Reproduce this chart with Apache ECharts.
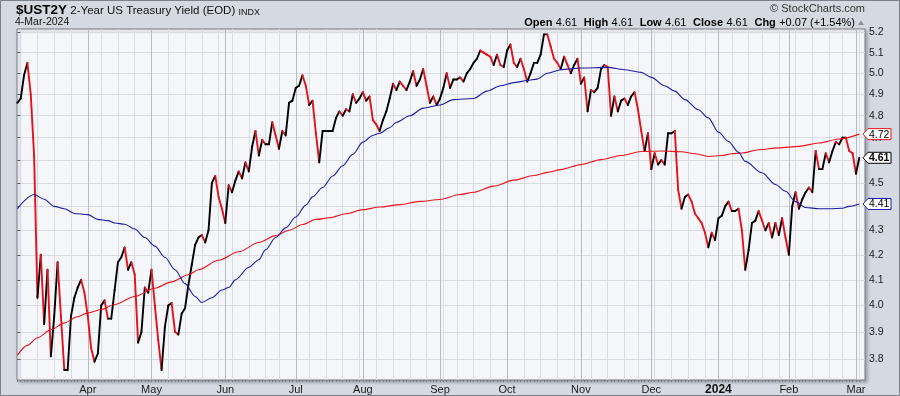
<!DOCTYPE html>
<html><head><meta charset="utf-8">
<script src="https://cdn.jsdelivr.net/npm/echarts@6/dist/echarts.min.js"></script>
<style>html,body{margin:0;padding:0;background:#d4d9e2}#c{width:900px;height:396px}</style>
</head><body><div id="c"></div>
<script>
// ---- categories: trading days ----
const startDate = '2023-03-03';
const endDate = '2024-03-04';
const holidays = ['2023-04-07','2023-05-29','2023-06-19','2023-07-04','2023-09-04','2023-11-23','2023-12-25','2024-01-01','2024-01-15','2024-02-19'];
const monthNames = ['Jan','Feb','Mar','Apr','May','Jun','Jul','Aug','Sep','Oct','Nov','Dec'];

// ---- daily close of $UST2Y (one per trading day) ----
const closes = [
4.86,4.88,4.99,5.05,4.90,4.62,4.03,4.20,3.93,4.14,
3.81,3.96,4.17,3.96,3.76,3.76,3.96,4.03,4.07,4.10,
4.05,3.96,3.84,3.79,3.82,4.00,4.02,3.95,3.95,4.06,
4.17,4.19,4.23,4.14,4.17,4.12,3.86,3.90,4.07,4.05,
4.14,4.00,3.87,3.76,3.92,4.00,4.01,3.90,3.89,3.97,
3.99,4.08,4.16,4.24,4.27,4.28,4.25,4.30,4.50,4.53,
4.44,4.39,4.33,4.49,4.46,4.51,4.55,4.52,4.59,4.55,
4.66,4.73,4.62,4.69,4.67,4.67,4.77,4.71,4.65,4.73,
4.71,4.86,4.87,4.93,4.94,4.99,4.94,4.85,4.87,4.72,
4.59,4.73,4.73,4.73,4.73,4.79,4.82,4.80,4.83,4.82,
4.90,4.86,4.88,4.91,4.87,4.89,4.78,4.76,4.73,4.78,
4.82,4.88,4.95,4.92,4.96,4.94,4.92,4.96,5.01,4.94,
4.97,5.02,4.94,4.86,4.89,4.85,4.88,4.93,5.00,4.93,
4.97,4.97,4.98,4.96,5.00,5.02,5.05,5.07,5.11,5.10,
5.09,5.08,5.04,5.09,5.04,5.03,5.11,5.14,5.05,5.03,
5.07,5.02,4.96,5.00,5.05,5.05,5.09,5.19,5.19,5.13,
5.07,5.05,5.02,5.08,5.04,5.00,5.04,5.07,4.95,4.98,
4.82,4.92,4.91,4.93,5.02,5.04,5.03,4.80,4.89,4.82,
4.87,4.88,4.85,4.89,4.91,4.83,4.73,4.64,4.72,4.56,
4.63,4.58,4.60,4.58,4.72,4.72,4.73,4.47,4.39,4.44,
4.45,4.42,4.37,4.35,4.33,4.29,4.23,4.29,4.26,4.35,
4.36,4.40,4.42,4.38,4.38,4.39,4.30,4.14,4.22,4.33,
4.34,4.38,4.34,4.30,4.33,4.27,4.33,4.28,4.35,4.27,
4.20,4.40,4.46,4.39,4.43,4.46,4.48,4.46,4.64,4.56,
4.56,4.63,4.59,4.64,4.68,4.67,4.70,4.70,4.64,4.63,
4.54,4.61
];

// ---- 50-day MA (blue), read at these trading-day indices ----
const ma50Idx = [0,5,8,11,14,17,21,24,27,29,32,35,38,41,44,47,50,53,55,58,61,63,65,69,72,74,77,80,83,86,88,91,94,97,100,103,106,108,111,113,117,121,126,130,136,140,144,148,152,155,158,162,168,176,181,186,189,193,196,199,203,206,209,212,215,217,222,226,229,232,235,239,242,246,248,251];
const ma50Val = [4.39,4.45,4.43,4.40,4.39,4.37,4.365,4.345,4.34,4.33,4.325,4.305,4.27,4.235,4.19,4.14,4.085,4.035,4.012,4.03,4.06,4.07,4.10,4.15,4.18,4.22,4.27,4.31,4.355,4.405,4.44,4.48,4.53,4.575,4.625,4.68,4.71,4.72,4.745,4.77,4.80,4.835,4.85,4.875,4.88,4.915,4.94,4.955,4.965,4.972,5.00,5.017,5.025,5.028,5.017,5.004,4.98,4.94,4.915,4.875,4.828,4.79,4.725,4.683,4.634,4.594,4.544,4.493,4.464,4.42,4.395,4.39,4.39,4.392,4.40,4.41];

// ---- 200-day MA (red) ----
const ma200Idx = [0,3,6,10,14,18,21,25,29,35,41,46,51,54,60,66,72,77,81,85,89,93,98,103,108,114,120,126,132,136,142,148,154,158,162,168,174,180,186,192,198,202,206,210,213,216,221,227,233,239,245,251];
const ma200Val = [3.813,3.85,3.878,3.908,3.934,3.957,3.972,3.985,4.004,4.035,4.067,4.092,4.12,4.14,4.178,4.212,4.25,4.278,4.30,4.324,4.345,4.352,4.369,4.386,4.397,4.407,4.421,4.429,4.45,4.46,4.486,4.512,4.532,4.546,4.558,4.58,4.602,4.62,4.638,4.64,4.637,4.628,4.616,4.62,4.628,4.631,4.646,4.654,4.661,4.676,4.694,4.716];

// ---- y tick labels ----
const yTicks = [3.8,3.9,4.0,4.1,4.2,4.3,4.4,4.5,4.6,4.7,4.8,4.9,5.0,5.1,5.2];

// ---- build trading dates ----
const dates = [];
(function(){
  let d = new Date(startDate + 'T00:00:00Z');
  const end = new Date(endDate + 'T00:00:00Z');
  while (d <= end) {
    const s = d.toISOString().slice(0,10);
    const wd = d.getUTCDay();
    if (wd !== 0 && wd !== 6 && holidays.indexOf(s) < 0) dates.push(new Date(d.getTime()));
    d = new Date(d.getTime() + 86400000);
  }
})();
const dayIdx = dates.map((d,i)=>i);
const monthIdx = [], weekIdx = [], labelMap = {};
const weekNo = d => Math.floor((d.getTime()/86400000 + 3) / 7); // Monday-based
dates.forEach((d,i)=>{
  if (i === 0) return;
  const p = dates[i-1];
  if (d.getUTCMonth() !== p.getUTCMonth()) {
    monthIdx.push(i);
    labelMap[i] = d.getUTCMonth() === 0 ? '{y|' + d.getUTCFullYear() + '}' : monthNames[d.getUTCMonth()];
  }
  if (weekNo(d) !== weekNo(p)) weekIdx.push(i);
});

const priceSegs = closes.slice(1).map((v,k)=>[k, closes[k], k+1, v]);
const ma50 = ma50Idx.map((x,k)=>[x, ma50Val[k]]);
const ma200 = ma200Idx.map((x,k)=>[x, ma200Val[k]]);

const XMIN = -0.1, XMAX = 252.7, YMIN = 3.724, YMAX = 5.217;
const FONT = '"Liberation Sans", Arial, sans-serif';

function baseX(extra){
  return Object.assign({type:'value', min:XMIN, max:XMAX, position:'bottom',
    axisLine:{show:false}, axisTick:{show:false}, axisLabel:{show:false}, splitLine:{show:false}}, extra);
}

const chart = echarts.init(document.getElementById('c'), null, {renderer:'canvas'});
const option = {
  animation:false,
  backgroundColor:'#d4d9e2',
  textStyle:{fontFamily:FONT},
  grid:{left:17, right:35, top:29, bottom:16, show:true, backgroundColor:'#f5f6fa',
    borderColor:'#767b85', borderWidth:1,
    shadowColor:'rgba(60,65,80,0.35)', shadowBlur:3, shadowOffsetX:2, shadowOffsetY:2},
  xAxis:[
    baseX({axisTick:{show:true, customValues:dayIdx, length:2, lineStyle:{color:'#777c86', width:1}},
      axisLabel:{show:true, customValues:monthIdx, formatter:v=>labelMap[Math.round(v)]||'',
        margin:4, color:'#1a1a1a', fontSize:11, fontFamily:FONT,
        rich:{y:{fontWeight:'bold', fontSize:12, color:'#111', fontFamily:FONT}}}}),
    baseX({axisTick:{show:false, customValues:weekIdx}, splitLine:{show:true, lineStyle:{color:'#d8dbe2', width:1}}}),
    baseX({axisTick:{show:false, customValues:monthIdx}, splitLine:{show:true, lineStyle:{color:'#b6bac3', width:1}}})
  ],
  yAxis:{type:'log', logBase:10, min:YMIN, max:YMAX, position:'right',
    axisLine:{show:false},
    axisTick:{show:true, customValues:yTicks, length:3, lineStyle:{color:'#555'}},
    axisLabel:{customValues:yTicks, formatter:v=>Number(v).toFixed(1), margin:4, color:'#1a1a1a', fontSize:10.5, fontFamily:FONT},
    splitLine:{show:true, lineStyle:{color:'#d8dbe2', width:1}}},
  series:[
    {type:'line', name:'MA200', data:ma200, xAxisIndex:0, showSymbol:false, smooth:0.3, smoothMonotone:'x', silent:true,
      lineStyle:{color:'#e8141a', width:1.1}},
    {type:'line', name:'MA50', data:ma50, xAxisIndex:0, showSymbol:false, smooth:0.3, smoothMonotone:'x', silent:true,
      lineStyle:{color:'#1c1ca0', width:1.1}},
    {type:'custom', name:'Close', data:priceSegs, xAxisIndex:0, silent:true,
      encode:{x:[0,2], y:[1,3]},
      renderItem:function(params, api){
        const a = api.coord([api.value(0), api.value(1)]);
        const b = api.coord([api.value(2), api.value(3)]);
        const up = api.value(3) >= api.value(1);
        return {type:'line', shape:{x1:a[0], y1:a[1], x2:b[0], y2:b[1]},
          style:{stroke: up ? '#000000' : '#e3121b', lineWidth:1.9, lineCap:'round'}};
      }}
  ]
};
chart.setOption(option);

// ---- header texts and value tags ----
const n = closes.length;
const last = closes[n-1], prev = closes[n-2];
const chg = last - prev;
const sign = chg >= 0 ? '+' : '-';
const pct = Math.abs(chg / prev * 100).toFixed(2);
const lastDate = dates[dates.length-1];
const dateStr = lastDate.getUTCDate() + '-' + monthNames[lastDate.getUTCMonth()] + '-' + lastDate.getUTCFullYear();

const xRight = chart.convertToPixel({xAxisIndex:0}, XMAX);
function tag(v, color, bold){
  const y = chart.convertToPixel({yAxisIndex:0}, v);
  const x0 = xRight - 2;
  return [{type:'polygon', z:50, silent:true,
      shape:{points:[[x0, y], [x0+5, y-5.5], [x0+28, y-5.5], [x0+28, y+5.5], [x0+5, y+5.5]]},
      style:{fill:'#ffffff', stroke:color, lineWidth:1}},
    {type:'text', z:51, silent:true, x:x0+6, y:y+0.5,
      style:{text:v.toFixed(2), fill:'#000', fontSize:10.5, fontWeight:bold?'bold':'normal', fontFamily:FONT, verticalAlign:'middle', align:'left'}}];
}
const rich = {b:{fontWeight:'bold', fontSize:11, fill:'#000', fontFamily:FONT, verticalAlign:'bottom'},
              n:{fontSize:11, fill:'#000', fontFamily:FONT, verticalAlign:'bottom'}};
const hdr = '{b|Open} {n|' + last.toFixed(2) + '}  {b|High} {n|' + last.toFixed(2) + '}  {b|Low} {n|' + last.toFixed(2) +
  '}  {b|Close} {n|' + last.toFixed(2) + '}  {b|Chg} {n|' + sign + Math.abs(chg).toFixed(2) + ' (' + sign + pct + '%)}';

const graphics = [
  {type:'text', silent:true, x:16, y:10, style:{text:'{a|$UST2Y} {t|2-Year US Treasury Yield (EOD)} {c|INDX}', verticalAlign:'middle',
    rich:{a:{fontWeight:'bold', fontSize:13.5, fill:'#000', fontFamily:FONT, verticalAlign:'bottom'},
          t:{fontSize:11.5, fill:'#111', fontFamily:FONT, verticalAlign:'bottom'},
          c:{fontSize:9, fill:'#111', fontFamily:FONT, verticalAlign:'bottom'}}}},
  {type:'text', silent:true, x:15, y:22.5, style:{text:dateStr, fontSize:10.5, fill:'#111', fontFamily:FONT, verticalAlign:'middle'}},
  {type:'text', silent:true, x:865, y:9, style:{text:'\u00A9 StockCharts.com', fontSize:11, fill:'#333', fontFamily:FONT, align:'right', verticalAlign:'middle'}},
  {type:'text', silent:true, x:855, y:22.5, style:{text:hdr, rich:rich, align:'right', verticalAlign:'middle'}},
  {type:'polygon', silent:true, shape:{points:[[858,25],[864,25],[861,20.5]]}, style:{fill:'#8a8f98'}},
  {type:'rect', silent:true, z:200, shape:{x:0.5, y:0.5, width:899, height:395}, style:{fill:null, stroke:'#7b8089', lineWidth:1}}
].concat(tag(ma200Val[ma200Val.length-1], '#e8141a', false),
         tag(last, '#000000', true),
         tag(ma50Val[ma50Val.length-1], '#1c1ca0', false));
chart.setOption({graphic:graphics});
</script>
</body></html>
